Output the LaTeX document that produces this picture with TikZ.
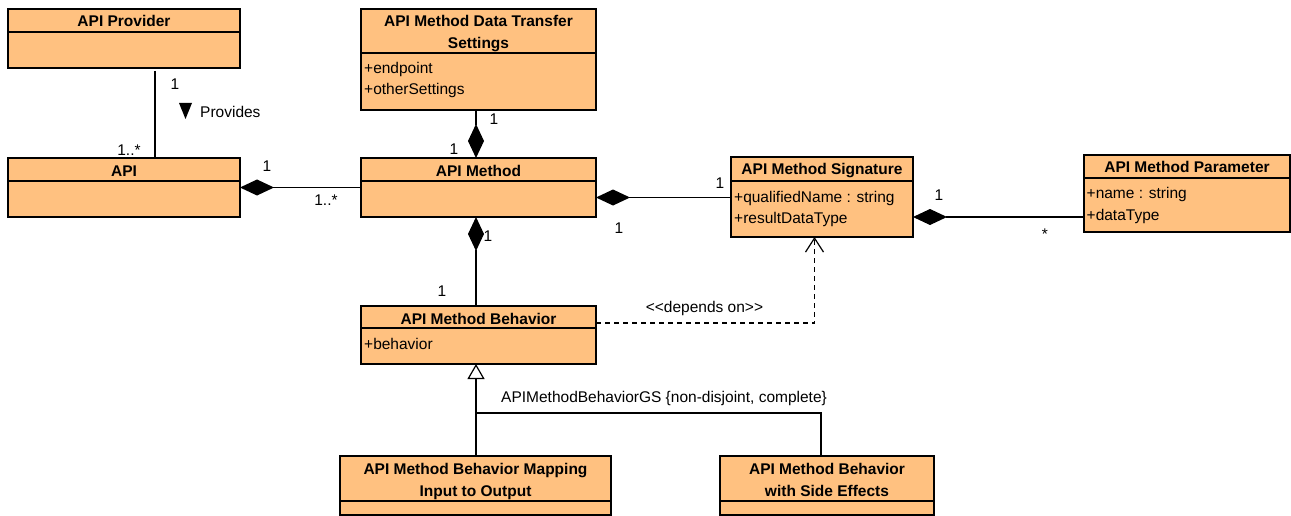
\documentclass[tikz,border=0pt]{standalone}
\usepackage{fontspec}
\setmainfont{Liberation Sans}
\usetikzlibrary{arrows.meta,calc}
\definecolor{clsfill}{RGB}{255,193,128}
\tikzset{
  cls/.style={draw=black, fill=clsfill, line width=1.3pt, inner sep=0pt, outer sep=0pt, anchor=north west},
  divider/.style={line width=1.2pt},
  ttl/.style={font=\bfseries\fontsize{15.5}{19}\selectfont, inner sep=0pt, anchor=base},
  attr/.style={font=\fontsize{15.5}{19}\selectfont, inner sep=0pt, anchor=base west},
  lbl/.style={font=\fontsize{15.5}{19}\selectfont, inner sep=0pt},
  conn/.style={line width=1.2pt},
  comp/.style={conn, {Diamond[length=34pt,width=16pt]}-},
  compend/.style={conn, -{Diamond[length=34pt,width=16pt]}},
  dep/.style={conn, dash pattern=on 5pt off 4pt, -{Straight Barb[length=14pt,width=18pt,line width=1.2pt]}},
  gen/.style={conn, -{Triangle[open,length=15pt,width=17pt,line width=1.2pt]}},
}
\newcommand\umlclass[6]{%
  \node[cls, minimum width=#4pt, minimum height=#5pt] (#1) at (#2,#3) {};
  \draw[divider] ($(#1.north west)+(0,#6)$) -- ($(#1.north east)+(0,#6)$);
}
\begin{document}
\begin{tikzpicture}[x=1pt,y=-1pt]
\useasboundingbox (0,0) rectangle (1291,516);

% classes
\umlclass{prov}{8}{9}{232}{59}{23}
\node[ttl] at ($(prov.north)+(0,18)$) {API Provider};

\umlclass{api}{8}{158}{232}{59}{23}
\node[ttl] at ($(api.north)+(0,18)$) {API};

\umlclass{dts}{361}{9}{235}{101}{44}
\node[ttl] at ($(dts.north)+(0,18)$) {API Method Data Transfer};
\node[ttl] at ($(dts.north)+(0,40)$) {Settings};
\node[attr] at ($(dts.north west)+(3,65)$) {+endpoint};
\node[attr] at ($(dts.north west)+(3,86)$) {+otherSettings};

\umlclass{meth}{361}{158}{235}{59}{23}
\node[ttl] at ($(meth.north)+(0,18)$) {API Method};

\umlclass{sig}{731}{157}{182}{80}{24}
\node[ttl] at ($(sig.north)+(0,18)$) {API Method Signature};
\node[attr] at ($(sig.north west)+(3,45)$) {+qualifiedName : string};
\node[attr] at ($(sig.north west)+(3,66)$) {+resultDataType};

\umlclass{param}{1084}{155}{206}{77}{23}
\node[ttl] at ($(param.north)+(0,18)$) {API Method Parameter};
\node[attr] at ($(param.north west)+(2.5,44)$) {+name : string};
\node[attr] at ($(param.north west)+(2.5,65)$) {+dataType};

\umlclass{beh}{361}{306}{235}{58}{22}
\node[ttl] at ($(beh.north)+(0,18)$) {API Method Behavior};
\node[attr] at ($(beh.north west)+(3,43)$) {+behavior};

\umlclass{bl}{340}{456}{271}{59}{45}
\node[ttl] at ($(bl.north)+(0,18)$) {API Method Behavior Mapping};
\node[ttl] at ($(bl.north)+(0,40)$) {Input to Output};

\umlclass{br}{720}{456}{214}{59}{45}
\node[ttl] at ($(br.north)+(0,18)$) {API Method Behavior};
\node[ttl] at ($(br.north)+(0,40)$) {with Side Effects};

% Provider -- API
\draw[conn] ([xshift=31pt,yshift=-3pt]prov.south) -- ([xshift=31pt]api.north);
\node[lbl] at (175,84) {1};
\fill (179,103) -- (192,103) -- (185.5,119) -- cycle;
\node[lbl, anchor=base west] at (200,118) {Provides};
\node[lbl] at (129,150) {1..*};

% API -- Method
\draw[comp] (api.east) -- (api.east -| meth.west);
\node[lbl] at (267,166) {1};
\node[lbl] at (326,200) {1..*};

% DTS -- Method
\draw[compend] ([xshift=-2.5pt]dts.south) -- ([xshift=-2.5pt]meth.north);
\node[lbl] at (494,119) {1};
\node[lbl] at (454,149) {1};

% Method -- Behavior
\draw[comp] ([xshift=-2.5pt]meth.south) -- ([xshift=-2.5pt]beh.north);
\node[lbl] at (488,236) {1};
\node[lbl] at (442,291) {1};

% Method -- Signature
\draw[comp] ([yshift=-10pt]meth.east) -- ([yshift=-10pt]meth.east -| sig.west);
\node[lbl] at (720,183) {1};
\node[lbl] at (619,228) {1};

% Signature -- Parameter
\draw[comp] ([yshift=-20pt]sig.east) -- ([yshift=-20pt]sig.east -| param.west);
\node[lbl] at (939,195) {1};
\node[lbl] at (1045,234) {*};

% Dependency
\draw[dep] ([yshift=12pt]beh.east) -| ([xshift=-7.5pt]sig.south);
\node[lbl, anchor=base] at (704.5,312) {{<}{<}depends on{>}{>}};

% Generalization
\coordinate (gx) at (476,413);
\coordinate (gr) at (821,413);
\draw[gen] (bl.north -| gx) -- (beh.south -| gx);
\draw[conn] (br.north -| gr) -- (gr) -- (gx);
\node[lbl, anchor=base west] at (501,402) {APIMethodBehaviorGS \{non-disjoint, complete\}};
\end{tikzpicture}
\end{document}
